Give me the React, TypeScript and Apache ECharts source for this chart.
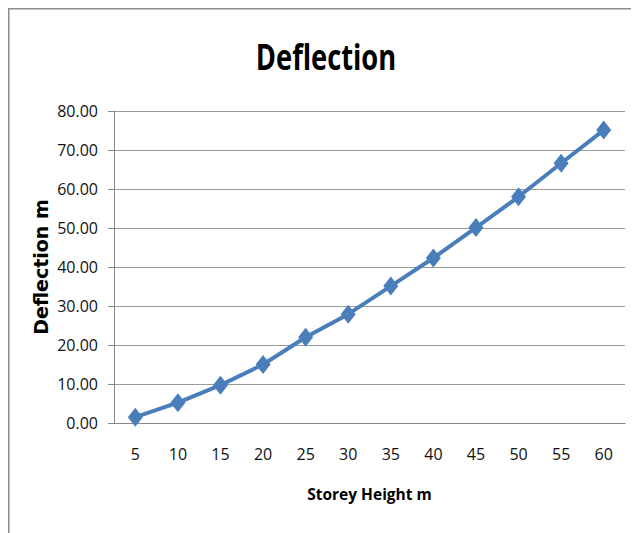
import React, { useEffect, useRef } from "react";
import * as echarts from "echarts";

const categories = ["5", "10", "15", "20", "25", "30", "35", "40", "45", "50", "55", "60"];
const deflection = [1.5, 5.2, 9.7, 15.0, 22.0, 27.9, 35.1, 42.3, 50.1, 58.0, 66.6, 75.1];
const titleText = "Deflection";

const FONT = "'Open Sans', sans-serif";

export default function App() {
  const ref = useRef<HTMLDivElement>(null);
  useEffect(() => {
    if (!ref.current) return;
    const chart = echarts.init(ref.current, undefined, { renderer: "svg" });
    chart.setOption({
      animation: false,
      backgroundColor: "#ffffff",
      graphic: [
        { type: "line", shape: { x1: 0.5, y1: 0, x2: 0.5, y2: 530 }, style: { stroke: "#8c8c8c", lineWidth: 2 } },
        { type: "line", shape: { x1: 0, y1: 0.5, x2: 640, y2: 0.5 }, style: { stroke: "#8c8c8c", lineWidth: 2 } },
        {
          type: "text",
          x: 318,
          y: 48,
          scaleX: 0.78,
          style: {
            text: titleText,
            x: 0,
            y: 0,
            align: "center",
            verticalAlign: "middle",
            fontFamily: FONT,
            fontWeight: "bold",
            fontSize: 35,
            fill: "#000",
          },
        },
      ],
      grid: { left: 106, top: 103, width: 511, height: 312, containLabel: false },
      xAxis: {
        type: "category",
        data: categories,
        boundaryGap: true,
        name: "Storey Height m",
        nameLocation: "middle",
        nameGap: 63,
        nameMoveOverlap: false,
        nameTextStyle: { fontFamily: FONT, fontWeight: "bold", fontSize: 15.5, color: "#000" },
        axisLine: { lineStyle: { color: "#888", width: 1 } },
        axisTick: { show: false },
        axisLabel: { fontFamily: FONT, fontSize: 16, color: "#111", margin: 23 },
        splitLine: { show: false },
      },
      yAxis: {
        type: "value",
        min: 0,
        max: 80,
        interval: 10,
        name: "Deflection m",
        nameLocation: "middle",
        nameGap: 64,
        nameMoveOverlap: false,
        nameTextStyle: { fontFamily: "'DejaVu Sans', sans-serif", fontWeight: "bold", fontSize: 19, color: "#000" },
        axisLine: { show: true, lineStyle: { color: "#888", width: 1 } },
        axisTick: { show: true, length: 6, lineStyle: { color: "#888" } },
        axisLabel: {
          fontFamily: FONT,
          fontSize: 16,
          color: "#111",
          margin: 16,
          formatter: (v: number) => v.toFixed(2),
        },
        splitLine: { show: true, lineStyle: { color: "#999", width: 1 } },
      },
      series: [
        {
          type: "line",
          data: deflection,
          symbol: "diamond",
          symbolSize: [15, 19],
          lineStyle: { color: "#4a7ebb", width: 4 },
          itemStyle: { color: "#4a7ebb" },
        },
      ],
    });
    return () => chart.dispose();
  }, []);
  return <div ref={ref} style={{ width: 631, height: 525 }} />;
}
